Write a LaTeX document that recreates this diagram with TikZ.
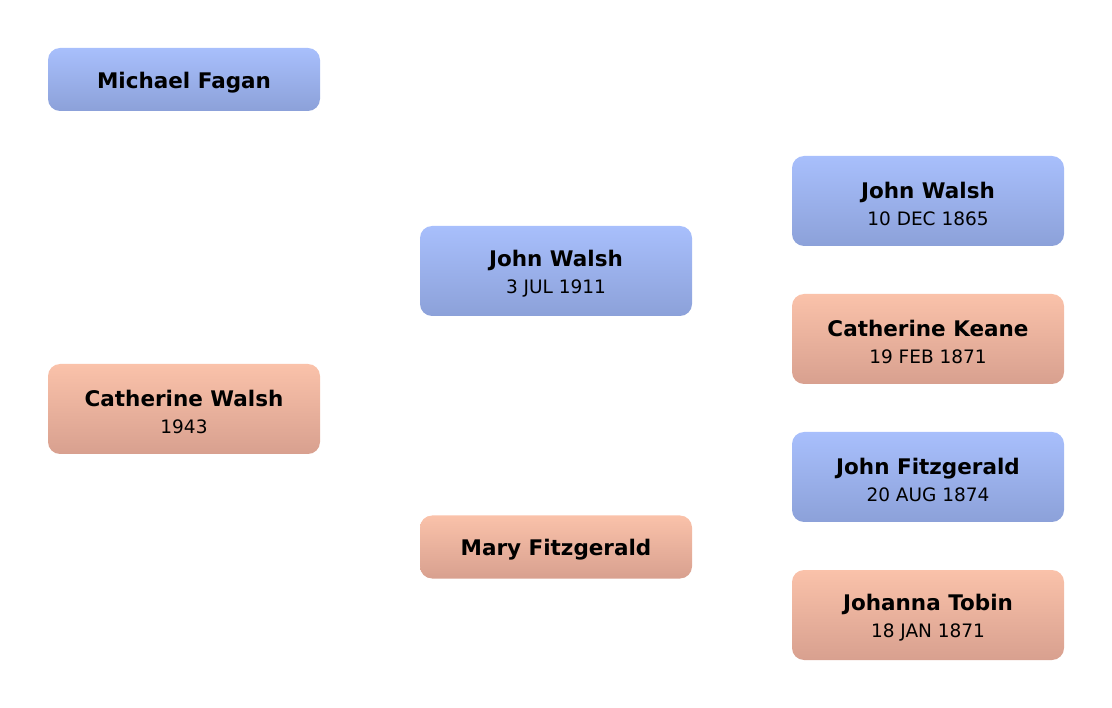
\documentclass[tikz,border=0pt]{standalone}
\usepackage{fontspec}
\setmainfont{DejaVu Sans}
\usepackage{tikz}
\usetikzlibrary{shapes, positioning}
\definecolor{maletop}{RGB}{168,191,252}
\definecolor{malebot}{RGB}{140,161,217}
\definecolor{femtop}{RGB}{250,194,170}
\definecolor{fembot}{RGB}{216,160,143}
\newcommand{\pname}[1]{{\bfseries\fontsize{21.5}{27}\selectfont\rule{0pt}{22pt}#1}}
\newcommand{\pdate}[1]{{\fontsize{18.5}{27}\selectfont #1}}
\tikzstyle{person} = [rounded corners=12pt, minimum width=272pt, inner sep=0pt, align=center, font=\fontsize{18.5}{27}\selectfont]
\tikzstyle{male} = [person, top color=maletop, bottom color=malebot]
\tikzstyle{female} = [person, top color=femtop, bottom color=fembot]

\begin{document}
\begin{tikzpicture}[x=1pt, y=-1pt]
			\useasboundingbox (0,0) rectangle (1112,708);
			\node [male, minimum height=63pt] (fagan) at (184,79.5) {\pname{Michael Fagan}};
			\node [female, minimum height=90pt] (cwalsh) at (184,409) {\pname{Catherine Walsh}\\\pdate{1943}};
			
			\node [male, minimum height=90pt] (jwalsh) at (556,271) {\pname{John Walsh}\\\pdate{3 JUL 1911}};
			\node [female, minimum height=63pt] (mfitz) at (556,547) {\pname{Mary Fitzgerald}};
			
			\node [male, minimum height=90pt] (jwalshsr) at (928,201) {\pname{John Walsh}\\\pdate{10 DEC 1865}};
			\node [female, minimum height=90pt] (ckeane) at (928,339) {\pname{Catherine Keane}\\\pdate{19 FEB 1871}};
			\node [male, minimum height=90pt] (jfitz) at (928,477) {\pname{John Fitzgerald}\\\pdate{20 AUG 1874}};
			\node [female, minimum height=90pt] (jtobin) at (928,615) {\pname{Johanna Tobin}\\\pdate{18 JAN 1871}};
		\end{tikzpicture}
\end{document}
